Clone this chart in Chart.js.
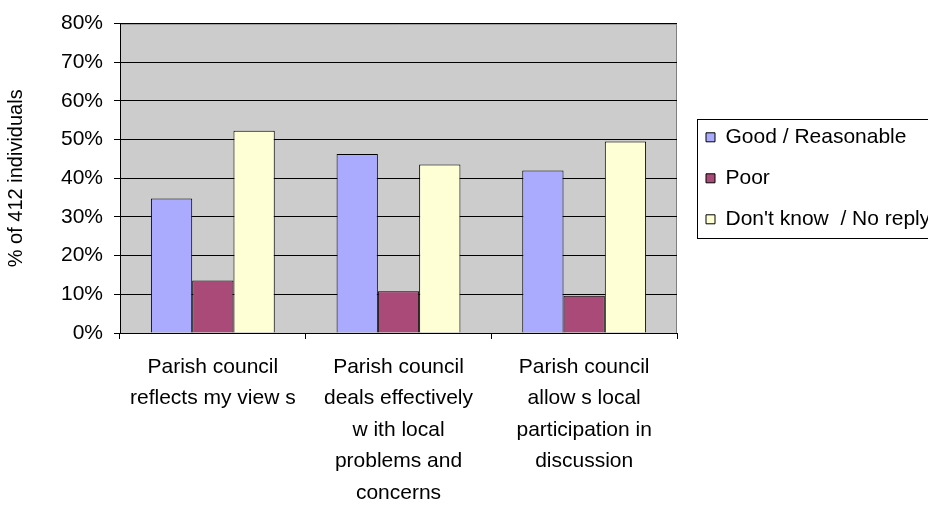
<!DOCTYPE html>
<html>
<head>
<meta charset="utf-8">
<script src="https://cdn.jsdelivr.net/npm/chart.js@4/dist/chart.umd.min.js"></script>
<style>
  html, body { margin: 0; padding: 0; background: #fff; }
  #wrap { width: 928px; height: 507px; }
</style>
</head>
<body>
<div id="wrap"><canvas id="myChart"></canvas></div>
<script>
const categories = [
    ['Parish council', 'reflects my view s'],
    ['Parish council', 'deals effectively', 'w ith local', 'problems and', 'concerns'],
    ['Parish council', 'allow s local', 'participation in', 'discussion']
];
const seriesNames = ['Good / Reasonable', 'Poor', "Don't know  / No reply"];
const goodValues = [34.8, 46.3, 42.0];
const poorValues = [13.6, 10.8, 9.6];
const dontKnowValues = [52.3, 43.6, 49.5];
const yTicks = [0, 10, 20, 30, 40, 50, 60, 70, 80];
const yTitle = '% of 412 individuals';

const FONT = 'Liberation Sans, Arial, sans-serif';
const fillColors = ['#AAAAFF', '#AA4A78', '#FFFFD6'];

// grey plot background with a thin grey frame on top and right
const plotBackground = {
    id: 'plotBackground',
    beforeDraw(chart) {
        const { ctx, chartArea: a } = chart;
        ctx.save();
        ctx.fillStyle = '#CCCCCC';
        ctx.fillRect(a.left, a.top, a.right - a.left, a.bottom - a.top);
        ctx.strokeStyle = '#808080';
        ctx.lineWidth = 1;
        ctx.beginPath();
        ctx.moveTo(a.left, a.top + 0.5);
        ctx.lineTo(a.right - 0.5, a.top + 0.5);
        ctx.lineTo(a.right - 0.5, a.bottom);
        ctx.stroke();
        ctx.restore();
    }
};

// black frame round the legend items
const legendFrame = {
    id: 'legendFrame',
    afterDraw(chart) {
        const boxes = chart.legend.legendHitBoxes;
        if (!boxes || !boxes.length) return;
        const first = boxes[0], last = boxes[boxes.length - 1];
        const top = Math.round(first.top + first.height / 2 - 18.5) + 0.5;
        const bottom = Math.round(last.top + last.height / 2 + 18.5) + 0.5;
        const left = Math.round(first.left - 9) + 0.5;
        const ctx = chart.ctx;
        ctx.save();
        ctx.strokeStyle = '#000';
        ctx.lineWidth = 1;
        ctx.strokeRect(left, top, chart.width + 10 - left, bottom - top);
        ctx.restore();
    }
};

const ctx = document.getElementById('myChart').getContext('2d');
new Chart(ctx, {
    type: 'bar',
    data: {
        labels: categories,
        datasets: [
            { label: seriesNames[0], data: goodValues, backgroundColor: fillColors[0] },
            { label: seriesNames[1], data: poorValues, backgroundColor: fillColors[1] },
            { label: seriesNames[2], data: dontKnowValues, backgroundColor: fillColors[2] }
        ].map(d => Object.assign(d, {
            borderColor: '#000',
            borderWidth: 1,
            borderSkipped: 'bottom',
            barPercentage: 1.0,
            categoryPercentage: 0.667,
            yAxisID: 'y'
        }))
    },
    options: {
        responsive: true,
        maintainAspectRatio: false,
        animation: false,
        layout: { padding: { top: 17, left: 0, right: 0, bottom: 0 } },
        plugins: {
            legend: {
                position: 'right',
                fullSize: false,
                maxWidth: 242,
                labels: {
                    font: { family: FONT, size: 21 },
                    color: '#000',
                    boxWidth: 9,
                    boxHeight: 9,
                    padding: 20
                }
            },
            tooltip: { enabled: false }
        },
        scales: {
            x: {
                grid: {
                    display: true,
                    offset: true,
                    drawOnChartArea: false,
                    color: '#000',
                    tickLength: 6
                },
                border: { display: true, color: '#000' },
                ticks: {
                    font: { family: FONT, size: 21, lineHeight: 1.5 },
                    color: '#000',
                    padding: 12,
                    maxRotation: 0,
                    autoSkip: false
                },
                // labels may run to the bottom edge, keep the plot bottom fixed
                afterFit: scale => { scale.height = 174; }
            },
            y: {
                min: 0,
                max: 80,
                afterBuildTicks: scale => { scale.ticks = yTicks.map(v => ({ value: v })); },
                grid: { color: '#000', tickLength: 6 },
                border: { display: true, color: '#000' },
                ticks: {
                    font: { family: FONT, size: 21 },
                    color: '#000',
                    padding: 11,
                    callback: v => v + '%'
                },
                title: {
                    display: true,
                    text: yTitle,
                    font: { family: FONT, size: 20 },
                    color: '#000',
                    padding: { top: 4, bottom: 0 }
                },
                afterFit: scale => { scale.width = 120; }
            },
            // empty spacer between plot and legend
            spacer: {
                type: 'linear',
                position: 'right',
                display: true,
                grid: { display: false },
                border: { display: false },
                ticks: { display: false },
                afterFit: scale => { scale.width = 9; }
            }
        }
    },
    plugins: [plotBackground, legendFrame]
});
</script>
</body>
</html>
